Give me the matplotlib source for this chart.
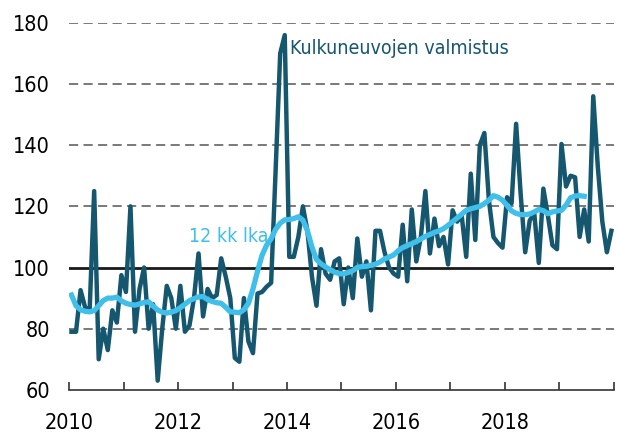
import numpy as np
import matplotlib
matplotlib.use("Agg")
import matplotlib.pyplot as plt
from matplotlib import font_manager

# Kuukausiarvot 1/2010 - 12/2019
valmistus = [
    79, 79, 92.6, 87, 86, 125, 70, 80, 73, 86, 82, 97.5,          # 2010
    92, 120, 79, 93, 100, 80, 88, 63, 80, 94, 90, 80,             # 2011
    94, 79, 81, 90, 104.6, 84, 93, 90, 91, 103, 97, 90,           # 2012
    70.4, 69.2, 90, 75.8, 72, 91.5, 92, 93.7, 95, 132, 170, 176,  # 2013
    103.5, 103.5, 110, 120, 112, 97, 87.5, 106, 98, 96, 102, 103, # 2014
    88, 100, 90, 109.5, 97, 102, 86, 112, 112, 105, 100, 98,      # 2015
    97, 114, 95.5, 119, 102, 110, 125, 104.6, 116, 107, 110, 101, # 2016
    118.7, 115, 117, 103.5, 130.7, 109, 140, 144, 122, 110, 108, 106.5,  # 2017
    123, 121, 147, 124, 105, 115.4, 117.7, 101.5, 125.8, 117, 107.3, 106,  # 2018
    140.4, 126.5, 130, 129.5, 110, 119, 108.5, 156, 133, 115, 105, 112,   # 2019
]

# 12 kk liukuva keskiarvo (1/2010 - 6/2019)
lka = [
    91, 87.5, 86.2, 85.7, 85.5, 85.9, 87.5, 89.2, 90, 90, 90.3, 89.1,
    88.3, 87.9, 87.7, 88.1, 88.6, 88.8, 87.4, 86.1, 85.4, 85.1, 85.4, 85.9,
    86.9, 88, 89.2, 89.8, 90.4, 90.5, 89.5, 88.9, 88.5, 88.3, 87, 85.5,
    85.4, 85.2, 86.2, 88.3, 93, 98.8, 104, 107.3, 109.4, 112.5, 114.5, 115.6,
    115.7, 116, 116.6, 115.5, 112, 106.7, 102.6, 101.2, 100.2, 99.3, 98.5, 98,
    97.9, 98.4, 99, 100, 100.3, 100.4, 100.7, 101.1, 101.8, 102.8, 103.4, 104.1,
    105.5, 106.5, 107.2, 107.8, 108.5, 109.3, 110.2, 110.8, 111.5, 112, 112.7, 113.8,
    115, 116.2, 117.4, 118.7, 119.2, 119.6, 120, 120.9, 122, 123.5, 123, 122,
    120.3, 118.5, 117.7, 117.3, 117.3, 117.5, 118.2, 119, 118.6, 117.6, 118.2, 118.5,
    118.7, 120.4, 122.8, 123.4, 123.5, 123.3,
]

dark = '#15576f'
light = '#3fbfea'

# kapea fontti, jos löytyy
cond = [f for f in font_manager.fontManager.ttflist
        if f.name == 'DejaVu Sans' and f.stretch == 'condensed' and f.weight == 400
        and f.style == 'normal']
if cond:
    fp = font_manager.FontProperties(fname=cond[0].fname)
else:
    fp = font_manager.FontProperties(family='DejaVu Sans')

x1 = 2010 + (np.arange(len(valmistus)) + 0.5) / 12
x2 = 2010 + (np.arange(len(lka)) + 0.5) / 12

fig = plt.figure(figsize=(6.18, 4.40), dpi=100)
ax = fig.add_axes([0.112, 0.114, 0.881, 0.834])

for y in [80, 120, 140, 160, 180]:
    ax.axhline(y, color='#555555', lw=1.1, ls=(0, (6, 3.5)), zorder=1)
ax.axhline(100, color='#1a1a1a', lw=2, zorder=1)

ax.plot(x1, valmistus, color=dark, lw=3.2, solid_joinstyle='round', zorder=3)
ax.plot(x2, lka, color=light, lw=3.8, solid_joinstyle='round', zorder=4)

ax.text(2014.05, 171.5, 'Kulkuneuvojen valmistus', color=dark, fontproperties=fp,
        fontsize=14, va='center', ha='left')
ax.text(2012.2, 110, '12 kk lka', color=light, fontproperties=fp, fontsize=14,
        va='center', ha='left')

ax.set_xlim(2010, 2020)
ax.set_ylim(60, 180)
ax.set_yticks(range(60, 181, 20))
ax.set_xticks(range(2010, 2021))
ax.set_xticklabels([str(y) if y % 2 == 0 and y < 2020 else '' for y in range(2010, 2021)])
for lab in ax.get_xticklabels() + ax.get_yticklabels():
    lab.set_fontproperties(fp)
    lab.set_fontsize(15.5)

for s in ['top', 'right', 'left']:
    ax.spines[s].set_visible(False)
ax.spines['bottom'].set_color('#333333')
ax.spines['bottom'].set_linewidth(1.2)
ax.tick_params(axis='y', length=0, pad=14)
ax.tick_params(axis='x', direction='in', length=6, width=1.2, color='#333333', pad=17)

fig.savefig('out.png', dpi=100)
